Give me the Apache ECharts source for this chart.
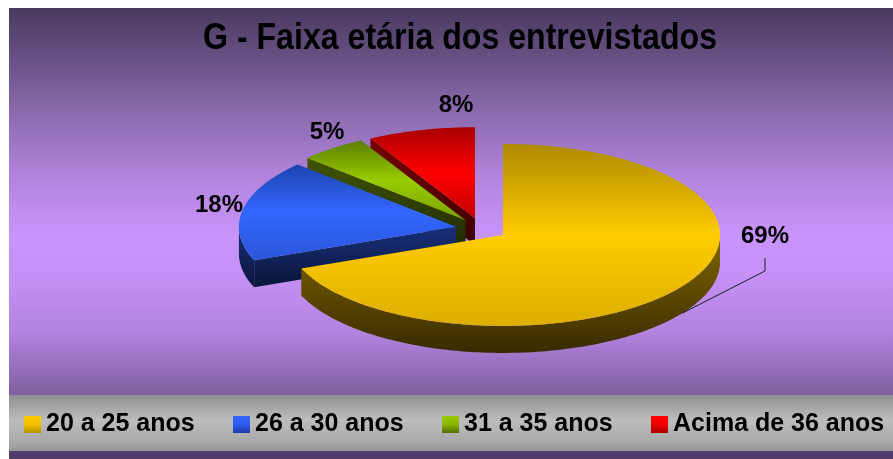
<!DOCTYPE html>
<html>
<head>
<meta charset="utf-8">
<script src="https://cdn.jsdelivr.net/npm/echarts@6/dist/echarts.min.js"></script>
<style>
html,body{margin:0;padding:0;background:#fff;}
#chart{width:893px;height:459px;}
</style>
</head>
<body>
<div id="chart"></div>
<script>
// ---- data ----
const title = 'G - Faixa etária dos entrevistados';
const categories = ['20 a 25 anos', '26 a 30 anos', '31 a 35 anos', 'Acima de 36 anos'];
const percents = [69, 18, 5, 8];
const valueLabels = ['69%', '18%', '5%', '8%'];

// ---- layout / style ----
const CENTER = [481.5, 228.8];
const RX = 217, RY = 91, DEPTH = 27, EXPLODE = 0.12;
const LABEL_POS = [[765, 236], [219, 205], [327, 132], [456, 105]];
const ZORDER = [8, 6, 4, 2];
const LG = (stops) => new echarts.graphic.LinearGradient(0, 0, 0, 1,
  stops.map((c) => ({ offset: c[0], color: c[1] })));
const TOP_COLORS = [
  [[0, '#ad8a00'], [0.5, '#ffcc00'], [1, '#dcae00']],
  [[0, '#1e44b0'], [0.5, '#3366ff'], [1, '#2a56d8']],
  [[0, '#5c7c00'], [0.5, '#99cc00'], [1, '#7aa200']],
  [[0, '#a80000'], [0.5, '#ff0000'], [1, '#c40000']]
];
const WALL_COLORS = [
  [[0, '#826600'], [1, '#382a00']],
  [[0, '#17307a'], [1, '#0a1538']],
  [[0, '#405500'], [1, '#1e2a00']],
  [[0, '#780000'], [1, '#3a0000']]
];
const LEGEND_COLORS = [
  [[0, '#ffcc00'], [0.5, '#f0c000'], [1, '#b89000']],
  [[0, '#3366ff'], [0.5, '#2e5cf0'], [1, '#1e3ca0']],
  [[0, '#99cc00'], [0.5, '#88b400'], [1, '#557000']],
  [[0, '#ff0000'], [0.5, '#ee0000'], [1, '#aa0000']]
];

const total = percents.reduce((a, b) => a + b, 0);
function pt(cx, cy, a, dy) { return [cx + RX * Math.sin(a), cy - RY * Math.cos(a) + (dy || 0)]; }
function arc(cx, cy, a0, a1, dy) {
  const pts = [];
  const n = Math.max(2, Math.ceil(Math.abs(a1 - a0) / (Math.PI / 180)));
  for (let i = 0; i <= n; i++) pts.push(pt(cx, cy, a0 + (a1 - a0) * i / n, dy));
  return pts;
}

function renderSlice(k) {
  return function (params, api) {
    const v = api.value(0);
    let before = 0;
    for (let i = 0; i < k; i++) before += percents[i];
    const a0 = before / total * Math.PI * 2;
    const a1 = a0 + v / total * Math.PI * 2;
    const mid = (a0 + a1) / 2;
    const cx = CENTER[0] + EXPLODE * RX * Math.sin(mid);
    const cy = CENTER[1] - EXPLODE * RY * Math.cos(mid);
    const children = [];
    const wallFill = LG(WALL_COLORS[k]);
    if (Math.sin(a0) < -1e-6) {
      const p = pt(cx, cy, a0);
      children.push({ type: 'polygon', shape: { points: [[cx, cy], p, [p[0], p[1] + DEPTH], [cx, cy + DEPTH]] }, style: { fill: wallFill } });
    }
    if (Math.sin(a1) > 1e-6) {
      const p = pt(cx, cy, a1);
      children.push({ type: 'polygon', shape: { points: [[cx, cy], p, [p[0], p[1] + DEPTH], [cx, cy + DEPTH]] }, style: { fill: wallFill } });
    }
    const f0 = Math.max(a0, Math.PI / 2), f1 = Math.min(a1, Math.PI * 1.5);
    if (f1 > f0) {
      const top = arc(cx, cy, f0, f1, 0);
      const bot = arc(cx, cy, f1, f0, DEPTH);
      children.push({ type: 'polygon', shape: { points: top.concat(bot) }, style: { fill: wallFill } });
    }
    children.push({ type: 'polygon', shape: { points: [[cx, cy]].concat(arc(cx, cy, a0, a1, 0)) }, style: { fill: LG(TOP_COLORS[k]) } });
    const lp = LABEL_POS[k];
    children.push({ type: 'text', style: { text: valueLabels[k], x: lp[0], y: lp[1], fill: '#000',
      font: 'bold 24px "Liberation Sans", Arial, sans-serif', align: 'center', verticalAlign: 'middle',
      textAlign: 'center', textVerticalAlign: 'middle' } });
    if (k === 0) {
      const e = pt(cx, cy, mid, DEPTH);
      children.push({ type: 'polyline', shape: { points: [[lp[0], lp[1] + 22], [lp[0], lp[1] + 35], e] },
        style: { stroke: '#1a1a2a', lineWidth: 1, fill: null } });
    }
    return { type: 'group', children: children };
  };
}

const chart = echarts.init(document.getElementById('chart'), null, { renderer: 'canvas' });
chart.setOption({
  animation: false,
  backgroundColor: '#ffffff',
  graphic: [
    { type: 'rect', z: 0, silent: true, shape: { x: 9, y: 8, width: 884, height: 451 },
      style: { fill: LG([[0, '#4a3a5f'], [0.12, '#6a5287'], [0.2, '#8264a3'], [0.38, '#b385de'],
        [0.5, '#c893fa'], [0.58, '#c792f8'], [0.72, '#b283df'], [0.86, '#7f5f9f'], [1, '#4e3b68']]) } },
    { type: 'rect', z: 1, silent: true, shape: { x: 9, y: 395, width: 884, height: 56 },
      style: { fill: LG([[0, '#8f8f8f'], [0.45, '#bdbdbd'], [0.85, '#a8a8a8'], [1, '#969696']]) } },
    { type: 'text', z: 1, silent: true, x: 460, y: 39, scaleX: 0.868, scaleY: 1,
      style: { text: title, x: 0, y: 0,
      font: 'bold 37px "Liberation Sans", Arial, sans-serif',
      fill: '#000', align: 'center', verticalAlign: 'middle', textAlign: 'center', textVerticalAlign: 'middle' } }
  ],
  legend: {
    left: 24, top: 412, padding: 0, itemGap: 29, itemWidth: 17, itemHeight: 17,
    selectedMode: false,
    textStyle: { fontSize: 25, fontWeight: 'bold', color: '#000', fontFamily: '"Liberation Sans", Arial, sans-serif',
      width: 158, overflow: 'none', lineHeight: 25 },
    data: categories.map((c, i) => ({ name: c, icon: 'rect', itemStyle: { color: LG(LEGEND_COLORS[i]) } }))
  },
  series: categories.map((c, k) => ({
    type: 'custom', name: c, coordinateSystem: 'none', z: ZORDER[k], silent: true,
    itemStyle: { color: TOP_COLORS[k][1][1] },
    renderItem: renderSlice(k),
    data: [[percents[k]]]
  }))
});
</script>
</body>
</html>
